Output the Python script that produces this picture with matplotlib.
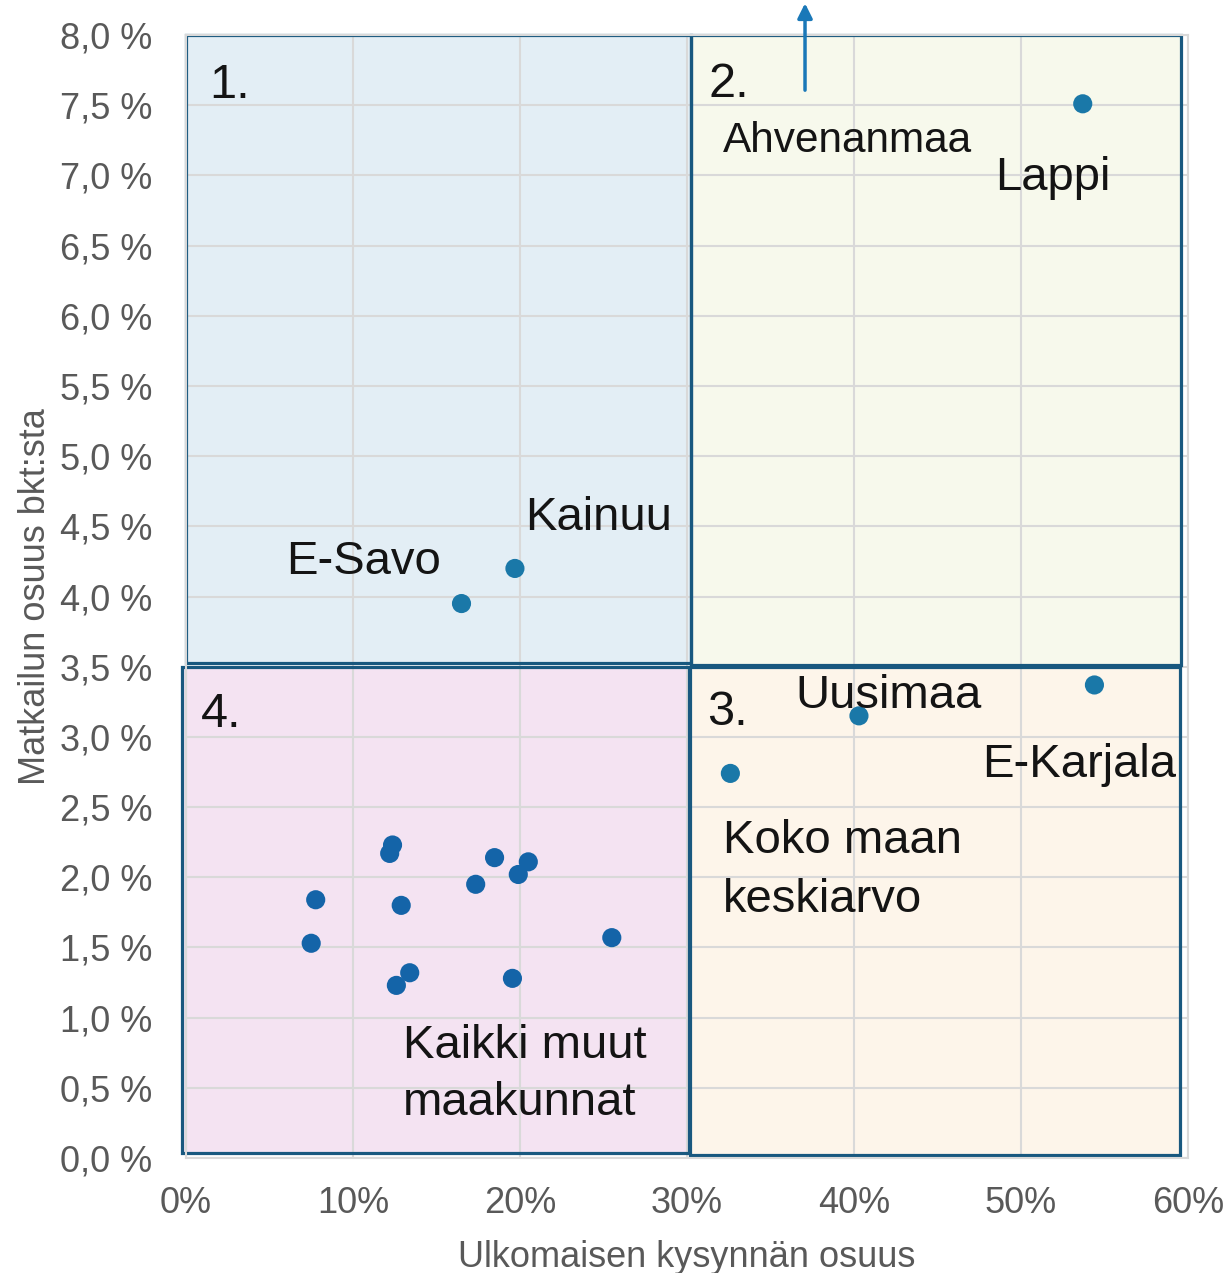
import matplotlib
matplotlib.use("Agg")
import matplotlib.pyplot as plt
from matplotlib.patches import Rectangle
from matplotlib.ticker import FixedLocator, FuncFormatter

plt.rcParams['font.family'] = ['Liberation Sans', 'DejaVu Sans']

# --- data (x = foreign demand share %, y = tourism share of GDP %) ---
named_regions = ["Lappi", "E-Karjala", "Uusimaa", "Koko maan keskiarvo", "Kainuu", "E-Savo"]
named_x = [53.7, 54.4, 40.3, 32.6, 19.7, 16.5]
named_y = [7.51, 3.37, 3.15, 2.74, 4.20, 3.95]

other_x = [12.37, 12.2, 18.48, 20.5, 19.9, 17.35, 7.77, 12.89, 7.5, 25.5, 13.4, 12.6, 19.55]
other_y = [2.23, 2.17, 2.14, 2.11, 2.02, 1.95, 1.84, 1.80, 1.53, 1.57, 1.32, 1.23, 1.28]

x_ticks = [0, 10, 20, 30, 40, 50, 60]
y_ticks = [0.0, 0.5, 1.0, 1.5, 2.0, 2.5, 3.0, 3.5, 4.0, 4.5, 5.0, 5.5, 6.0, 6.5, 7.0, 7.5, 8.0]

fig = plt.figure(figsize=(12.29, 12.73), dpi=100)
ax = fig.add_axes([0.1513, 0.0903, 0.8153, 0.8822])
ax.set_xlim(0, 60)
ax.set_ylim(0, 8)

grid_c = '#D9D9D9'
for s in ax.spines.values():
    s.set_color(grid_c)
    s.set_linewidth(1.5)
ax.xaxis.set_major_locator(FixedLocator(x_ticks))
ax.yaxis.set_major_locator(FixedLocator(y_ticks))
ax.xaxis.set_major_formatter(FuncFormatter(lambda v, p: f"{int(round(v))}%"))
ax.yaxis.set_major_formatter(FuncFormatter(lambda v, p: f"{v:.1f} %".replace('.', ',')))
ax.tick_params(axis='both', length=0, labelsize=26, labelcolor='#595959')
ax.tick_params(axis='y', pad=24)
ax.tick_params(axis='x', pad=20)
ax.set_axisbelow('line')
ax.grid(True, color=grid_c, linewidth=1.5)

ax.set_xlabel("Ulkomaisen kysynnän osuus", fontsize=26, color='#595959', labelpad=14)
ax.set_ylabel("Matkailun osuus bkt:sta", fontsize=26, color='#595959', labelpad=5)

# quadrant boxes (x0, y0, x1, y1) and fill colours
boxes = [
    ((0.0, 3.525, 30.24, 8.0), '#E3EEF5'),
    ((30.24, 3.51, 59.6, 8.0), '#F7F9EC'),
    ((30.2, 0.02, 59.5, 3.50), '#FDF5EA'),
    ((-0.24, 0.035, 30.1, 3.50), '#F4E3F2'),
]
edge_c = '#18587F'
for (x0, y0, x1, y1), fc in boxes:
    ax.add_patch(Rectangle((x0, y0), x1 - x0, y1 - y0, facecolor=fc, edgecolor='none',
                           zorder=1, clip_on=False))
for (x0, y0, x1, y1), fc in boxes:
    ax.add_patch(Rectangle((x0, y0), x1 - x0, y1 - y0, fill=False, edgecolor=edge_c,
                           linewidth=2.3, zorder=2, clip_on=False))

# points
ax.scatter(other_x, other_y, s=190, color='#1464A8', edgecolor='none', zorder=4, clip_on=False)
ax.scatter(named_x, named_y, s=190, color='#1A78A8', edgecolor='none', zorder=4, clip_on=False)

txt_c = '#141414'
def label(x, y, s, size=34):
    ax.text(x, y, s, fontsize=size, color=txt_c, ha='left', va='baseline', zorder=5)

# quadrant numbers
label(1.38, 7.55, "1.", 35)
label(31.32, 7.557, "2.", 35)
label(31.2, 3.084, "3.", 35)
label(0.9, 3.07, "4.", 35)

# region labels
label(32.16, 7.17, "Ahvenanmaa", 30.5)
label(48.44, 6.895, "Lappi")
label(20.3, 4.473, "Kainuu")
label(5.99, 4.16, "E-Savo")
label(36.47, 3.205, "Uusimaa")
label(47.66, 2.714, "E-Karjala")
label(32.16, 2.172, "Koko maan")
label(32.16, 1.752, "keskiarvo")
label(12.99, 0.712, "Kaikki muut")
label(12.99, 0.306, "maakunnat")

# arrow pointing to off-chart Ahvenanmaa
ax.annotate("", xy=(37.07, 8.226), xytext=(37.07, 7.607),
            arrowprops=dict(arrowstyle='-|>', color='#1A78B8', lw=2.5,
                            mutation_scale=22, shrinkA=0, shrinkB=0),
            annotation_clip=False, zorder=5)

fig.savefig("out.png", dpi=100)
